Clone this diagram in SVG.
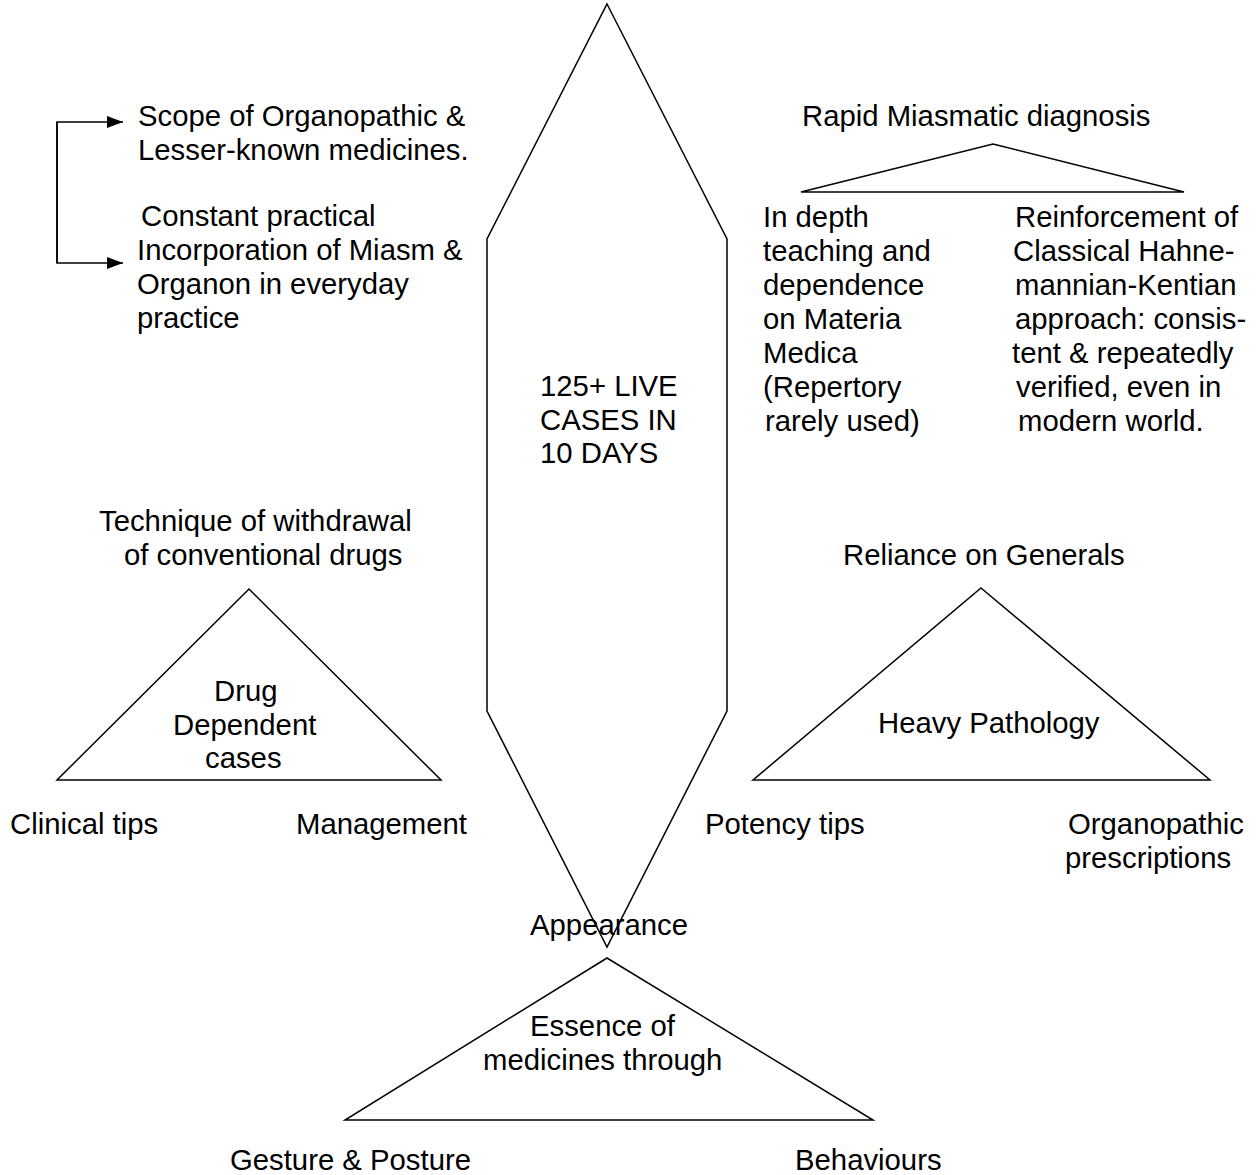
<svg xmlns="http://www.w3.org/2000/svg" width="1259" height="1175" viewBox="0 0 1259 1175">
<style>
text{font-family:"Liberation Sans",Arial,sans-serif;font-size:29.3px;fill:#000}
.shape{fill:none;stroke:#000;stroke-width:1.5;stroke-linejoin:miter}
.conn{fill:none;stroke:#000;stroke-width:1.5}
</style>
<defs>
<marker id="arr" markerWidth="16" markerHeight="12" refX="16" refY="6" orient="auto" markerUnits="userSpaceOnUse">
<path d="M0,0 L16,6 L0,12 Z" fill="#000"/>
</marker>
</defs>
<rect width="1259" height="1175" fill="#fff"/>
<g id="center-hexagon">
<polygon class="shape" points="607,4 727,239 727,711 607,947 487,711 487,239"/>
<text x="540" y="396">125+ LIVE</text>
<text x="540" y="430">CASES IN</text>
<text x="540" y="463">10 DAYS</text>
</g>
<g id="left-notes">
<text x="138" y="126">Scope of Organopathic &amp;</text>
<text x="138" y="160">Lesser-known medicines.</text>
<text x="141" y="226">Constant practical</text>
<text x="137" y="260">Incorporation of Miasm &amp;</text>
<text x="137" y="294">Organon in everyday</text>
<text x="137" y="328">practice</text>
</g>
<g id="miasmatic">
<text x="802" y="126">Rapid Miasmatic diagnosis</text>
<polygon class="shape" points="993,144 1184,192 801,192"/>
<text x="763" y="227">In depth</text>
<text x="763" y="261">teaching and</text>
<text x="763" y="295">dependence</text>
<text x="763" y="329">on Materia</text>
<text x="763" y="363">Medica</text>
<text x="763" y="397">(Repertory</text>
<text x="765" y="431">rarely used)</text>
<text x="1015" y="227">Reinforcement of</text>
<text x="1013" y="261">Classical Hahne-</text>
<text x="1015" y="295">mannian-Kentian</text>
<text x="1015" y="329">approach: consis-</text>
<text x="1012" y="363">tent &amp; repeatedly</text>
<text x="1016" y="397">verified, even in</text>
<text x="1018" y="431">modern world.</text>
</g>
<g id="drug-dependent">
<text x="99" y="531">Technique of withdrawal</text>
<text x="124" y="565">of conventional drugs</text>
<polygon class="shape" points="249,589 441,780 57,780"/>
<text x="214" y="701">Drug</text>
<text x="173" y="735">Dependent</text>
<text x="205" y="768">cases</text>
<text x="10" y="834">Clinical tips</text>
<text x="296" y="834">Management</text>
</g>
<g id="heavy-pathology">
<text x="843" y="565">Reliance on Generals</text>
<polygon class="shape" points="981,588 1210,780 753,780"/>
<text x="878" y="733">Heavy Pathology</text>
<text x="705" y="834">Potency tips</text>
<text x="1068" y="834">Organopathic</text>
<text x="1065" y="868">prescriptions</text>
</g>
<g id="essence">
<text x="530" y="935">Appearance</text>
<polygon class="shape" points="607,958 873,1120 345,1120"/>
<text x="530" y="1036">Essence of</text>
<text x="483" y="1070">medicines through</text>
<text x="230" y="1170">Gesture &amp; Posture</text>
<text x="795" y="1170">Behaviours</text>
</g>
<g id="connectors">
<path class="conn" d="M57,263 V122 H123" marker-end="url(#arr)"/>
<path class="conn" d="M57,122 V263 H123" marker-end="url(#arr)"/>
</g>
</svg>
